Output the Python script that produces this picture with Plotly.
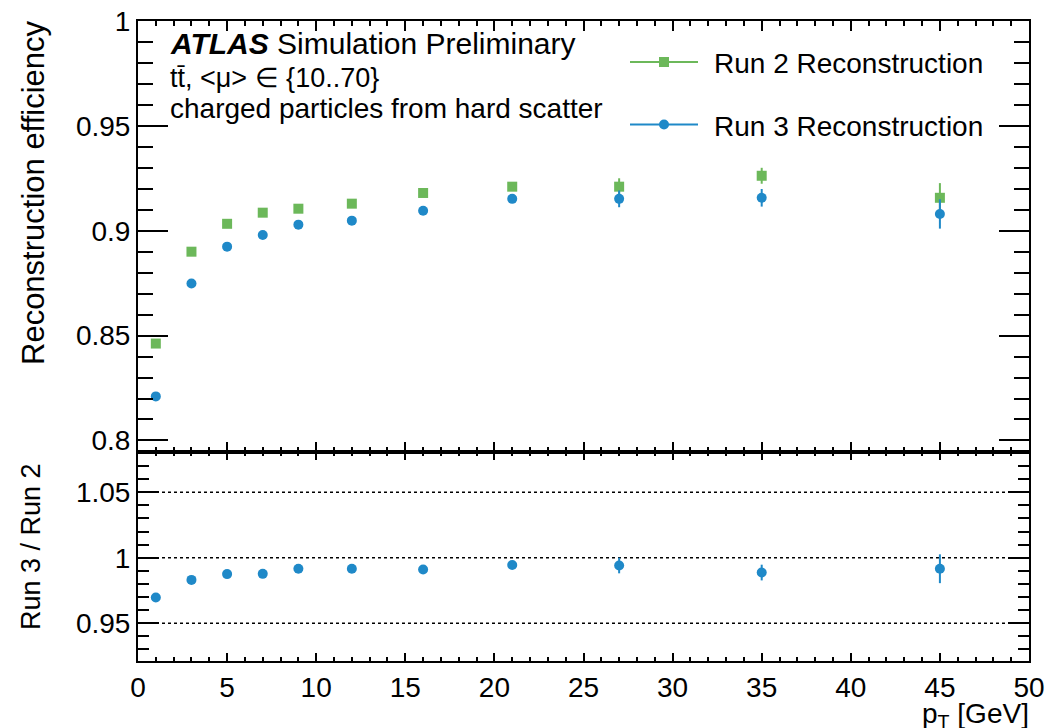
import plotly.graph_objects as go
from plotly.subplots import make_subplots

# Track reconstruction efficiency vs pT, Run 2 and Run 3 reconstruction
pt = [1, 3, 5, 7, 9, 12, 16, 21, 27, 35, 45]
eff_run2 = [0.8462, 0.8900, 0.9033, 0.9086, 0.9105, 0.9129, 0.9180, 0.9210, 0.9210, 0.9262, 0.9157]
err_run2 = [0.0008, 0.0008, 0.0008, 0.0009, 0.0010, 0.0010, 0.0012, 0.0018, 0.0040, 0.0038, 0.0070]
eff_run3 = [0.8210, 0.8748, 0.8924, 0.8980, 0.9029, 0.9048, 0.9095, 0.9152, 0.9152, 0.9157, 0.9080]
err_run3 = [0.0008, 0.0008, 0.0008, 0.0009, 0.0010, 0.0010, 0.0012, 0.0018, 0.0040, 0.0042, 0.0070]
ratio = [0.9696, 0.9831, 0.9875, 0.9877, 0.9916, 0.9916, 0.9910, 0.9944, 0.9941, 0.9887, 0.9916]
err_ratio = [0.0010, 0.0010, 0.0012, 0.0013, 0.0014, 0.0014, 0.0018, 0.0030, 0.0060, 0.0060, 0.0110]

ratio_lines = [0.95, 1.0, 1.05]

GREEN = "#6cb85a"
BLUE = "#1f89c8"
FONT = "Liberation Sans, Arial, Helvetica, sans-serif"

W, H = 1048, 728
ML, MR, MT, MB = 138, 19, 21, 67
PW, PH = W - ML - MR, H - MT - MB

fig = make_subplots(rows=2, cols=1, shared_xaxes=True, vertical_spacing=0,
                    row_heights=[0.6734, 0.3266])

fig.add_trace(go.Scatter(
    x=pt, y=eff_run2, mode="markers", name="Run 2 Reconstruction",
    marker=dict(symbol="square", size=10, color=GREEN),
    error_y=dict(type="data", array=err_run2, color=GREEN, thickness=2, width=0),
    showlegend=False), row=1, col=1)
fig.add_trace(go.Scatter(
    x=pt, y=eff_run3, mode="markers", name="Run 3 Reconstruction",
    marker=dict(symbol="circle", size=10, color=BLUE),
    error_y=dict(type="data", array=err_run3, color=BLUE, thickness=2, width=0),
    showlegend=False), row=1, col=1)
fig.add_trace(go.Scatter(
    x=pt, y=ratio, mode="markers", name="Run 3 / Run 2",
    marker=dict(symbol="circle", size=10, color=BLUE),
    error_y=dict(type="data", array=err_ratio, color=BLUE, thickness=2, width=0),
    showlegend=False), row=2, col=1)

# Dotted reference lines in the ratio panel
for v in ratio_lines:
    fig.add_shape(type="line", xref="x2 domain", yref="y2", x0=0, x1=1, y0=v, y1=v,
                  line=dict(color="black", width=1.5, dash="dot"), layer="below")

axis_common = dict(
    showline=True, linecolor="black", linewidth=2, mirror="ticks",
    ticks="inside", tickcolor="black", tickwidth=1.5,
    showgrid=False, zeroline=False, automargin=False,
    tickfont=dict(family=FONT, size=28, color="black"),
)

fig.update_xaxes(range=[0, 50], dtick=5, **axis_common)
fig.update_xaxes(row=1, col=1, showticklabels=False, ticklen=10,
                 minor=dict(dtick=1, ticklen=5, ticks="inside", tickcolor="black", tickwidth=1.5))
fig.update_xaxes(row=2, col=1, showticklabels=True, ticklen=8,
                 minor=dict(dtick=1, ticklen=4, ticks="inside", tickcolor="black", tickwidth=1.5))

fig.update_yaxes(row=1, col=1, range=[0.7945, 1.0], tickvals=[0.8, 0.85, 0.9, 0.95, 1.0],
                 ticktext=["0.8", "0.85", "0.9", "0.95", "1"], ticklen=30,
                 minor=dict(dtick=0.01, ticklen=15, ticks="inside", tickcolor="black", tickwidth=1.5),
                 **axis_common)
fig.update_yaxes(row=2, col=1, range=[0.9212, 1.0807], tickvals=[0.95, 1.0, 1.05],
                 ticktext=["0.95", "1", "1.05"], ticklen=21,
                 minor=dict(dtick=0.01, ticklen=11, ticks="inside", tickcolor="black", tickwidth=1.5),
                 **axis_common)


def px(x):
    return (x - ML) / PW


def py(y):
    return (H - MB - y) / PH


annotations = [
    dict(text="<b><i>ATLAS</i></b> Simulation Preliminary", x=px(168), y=py(44),
         xanchor="left", yanchor="middle", font=dict(size=30)),
    dict(text="tt\u0304, <\u03bc> \u2208 {10..70}", x=px(168), y=py(78),
         xanchor="left", yanchor="middle", font=dict(size=27)),
    dict(text="charged particles from hard scatter", x=px(168), y=py(108),
         xanchor="left", yanchor="middle", font=dict(size=28)),
    dict(text="Run 2 Reconstruction", x=px(712), y=py(63),
         xanchor="left", yanchor="middle", font=dict(size=28)),
    dict(text="Run 3 Reconstruction", x=px(712), y=py(126),
         xanchor="left", yanchor="middle", font=dict(size=28)),
    dict(text="Reconstruction efficiency", x=px(33), y=py(193), textangle=-90,
         xanchor="center", yanchor="middle", font=dict(size=31)),
    dict(text="Run 3 / Run 2", x=px(31), y=py(547), textangle=-90,
         xanchor="center", yanchor="middle", font=dict(size=27)),
    dict(text="p<sub>T</sub> [GeV]", x=px(1031), y=py(715), xanchor="right", yanchor="middle",
         font=dict(size=28)),
]
for a in annotations:
    a.update(xref="paper", yref="paper", showarrow=False)
    a["font"].update(family=FONT, color="black")
    fig.add_annotation(**a)

# Legend glyphs: short line with a marker on it
legend_rows = [(py(62), GREEN, "rect"), (py(124.5), BLUE, "circle")]
x_lo, x_hi = px(630), px(698)
x_mid = (x_lo + x_hi) / 2
half_w, half_h = 5 / PW, 5 / PH
for yy, col, kind in legend_rows:
    fig.add_shape(type="line", xref="paper", yref="paper", x0=x_lo, x1=x_hi, y0=yy, y1=yy,
                  line=dict(color=col, width=2))
    fig.add_shape(type=kind, xref="paper", yref="paper",
                  x0=x_mid - half_w, x1=x_mid + half_w, y0=yy - half_h, y1=yy + half_h,
                  fillcolor=col, line=dict(color=col, width=0))

fig.update_layout(
    width=W, height=H,
    margin=dict(l=ML, r=MR, t=MT, b=MB),
    paper_bgcolor="white", plot_bgcolor="white",
    font=dict(family=FONT, color="black"),
    showlegend=False,
)

fig.write_html("out.html")
